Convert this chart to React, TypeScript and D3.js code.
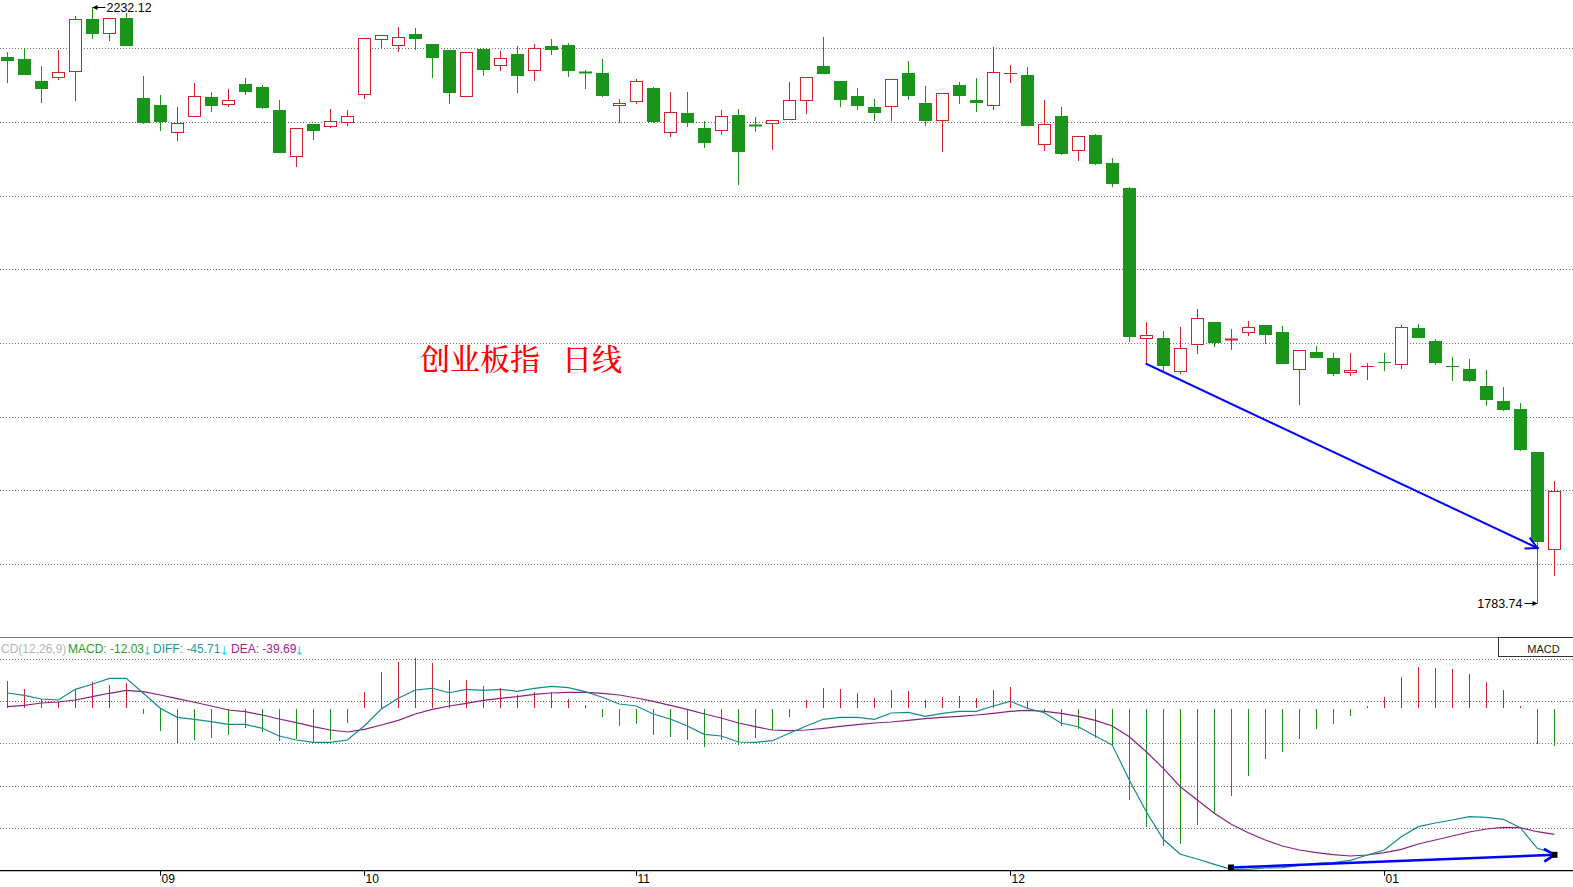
import React from "react";
import * as d3 from "d3";

const W = 1573;
const H = 887;

// ---- daily candles (index 0..91) ----
const opens = [2194.30,2193.02,2176.48,2179.26,2183.77,2223.09,2212.34,2223.85,2163.69,2158.43,2137.90,2149.93,2164.45,2158.96,2174.22,2171.96,2154.67,2119.86,2144.14,2142.41,2145.42,2166.48,2207.83,2203.32,2211.82,2204.30,2199.78,2164.97,2200.54,2188.28,2196.78,2184.52,2202.79,2203.54,2183.24,2182.49,2158.66,2161.21,2171.21,2137.90,2152.42,2141.14,2139.41,2150.91,2143.39,2144.67,2147.68,2161.96,2187.75,2176.48,2165.20,2156.93,2157.45,2182.49,2159.93,2146.93,2173.47,2162.19,2158.21,2182.27,2180.99,2129.48,2150.16,2124.37,2135.87,2114.82,2096.02,1983.01,1983.24,1958.20,1978.50,1995.27,1982.11,1987.97,1993.01,1987.75,1959.70,1972.71,1968.20,1957.45,1961.81,1965.19,1963.46,1990.76,1980.98,1962.18,1959.93,1947.15,1935.87,1929.85,1897.52,1824.36];
const highs = [2198.06,2201.06,2187.75,2199.78,2225.35,2232.12,2224.10,2227.83,2180.24,2165.95,2156.93,2174.97,2168.21,2170.46,2178.73,2173.47,2162.19,2140.91,2144.14,2155.42,2154.67,2209.10,2210.84,2216.85,2216.33,2204.30,2200.01,2198.06,2201.06,2199.03,2202.79,2204.30,2208.06,2205.05,2184.75,2193.02,2162.94,2177.98,2171.96,2168.21,2168.21,2146.40,2154.67,2155.42,2149.41,2146.93,2175.72,2179.26,2209.56,2176.48,2171.21,2162.94,2177.75,2191.51,2172.72,2167.23,2175.72,2178.73,2202.04,2188.51,2187.00,2162.19,2156.93,2134.90,2136.63,2118.58,2096.77,1995.49,1988.50,1991.51,2005.04,1995.27,1990.00,1996.02,1993.01,1992.26,1973.99,1977.22,1971.96,1971.96,1964.44,1971.96,1993.01,1993.99,1982.26,1968.95,1967.45,1959.18,1946.39,1934.36,1897.52,1875.72];
const lows = [2175.95,2181.97,2160.91,2178.21,2162.42,2209.03,2207.53,2203.77,2145.12,2139.86,2132.34,2149.93,2154.14,2157.90,2166.93,2156.40,2123.32,2112.79,2133.09,2141.66,2143.62,2163.92,2201.51,2199.26,2200.76,2179.71,2160.16,2164.97,2181.21,2184.97,2168.43,2177.45,2197.00,2180.46,2171.44,2165.42,2145.42,2160.16,2145.87,2135.35,2142.87,2127.08,2136.85,2099.26,2139.11,2125.57,2147.68,2152.64,2182.72,2157.68,2155.65,2147.38,2147.38,2163.17,2143.62,2124.07,2160.16,2154.14,2155.65,2175.95,2143.62,2124.82,2121.81,2117.30,2114.30,2097.75,1981.21,1963.69,1959.18,1957.15,1972.19,1977.45,1975.19,1985.49,1979.25,1964.67,1933.84,1969.18,1955.64,1955.64,1952.63,1959.40,1960.45,1984.22,1963.91,1951.88,1951.13,1933.09,1929.33,1899.02,1783.74,1805.26];
const closes = [2192.27,2181.97,2171.44,2183.02,2222.87,2212.79,2223.62,2203.77,2145.87,2146.63,2144.67,2164.97,2158.66,2161.96,2169.18,2156.93,2123.32,2140.91,2139.86,2146.17,2149.93,2208.58,2210.84,2209.33,2209.03,2194.75,2168.43,2198.06,2185.72,2193.54,2181.21,2201.06,2200.76,2184.97,2182.72,2166.17,2159.93,2176.48,2146.63,2152.94,2145.87,2130.84,2149.93,2124.07,2142.87,2146.93,2161.96,2179.26,2182.72,2163.17,2158.66,2153.39,2177.75,2166.17,2147.38,2167.23,2166.17,2160.91,2183.02,2182.49,2143.62,2143.92,2122.57,2134.90,2115.05,2100.01,1984.97,1985.27,1963.16,1975.49,1998.05,1980.46,1982.26,1991.28,1986.47,1964.67,1973.99,1969.18,1957.15,1958.95,1961.96,1964.82,1991.28,1984.22,1965.42,1961.81,1951.66,1937.60,1930.08,1899.78,1830.83,1867.97];

// ---- MACD(12,26,9) ----
const macdHist = [8.55,5.94,2.89,2.04,5.94,8.14,7.20,8.00,-1.73,-7.26,-10.85,-9.90,-9.47,-8.43,-6.13,-7.39,-10.22,-9.59,-10.72,-10.00,-4.56,5.09,11.38,14.53,15.79,14.21,8.87,8.87,6.98,6.35,4.15,5.09,5.09,2.89,1.00,-2.77,-5.60,-4.97,-8.43,-9.06,-10.00,-12.20,-10.00,-11.57,-9.37,-6.86,-2.77,2.58,6.35,6.04,4.78,3.21,5.72,5.41,2.58,3.52,3.84,3.21,5.72,6.67,2.26,-1.20,-5.60,-6.54,-9.37,-11.90,-28.87,-37.36,-43.33,-42.60,-36.70,-32.96,-27.60,-21.30,-15.97,-13.77,-9.69,-6.54,-4.97,-2.45,0.70,3.52,9.81,12.96,12.64,12.33,10.75,8.24,5.72,0.70,-11.16,-12.03];
const diffLine = [4.78,4.06,2.89,2.58,5.94,7.52,9.40,9.40,4.69,-0.03,-2.86,-3.49,-4.25,-5.06,-5.06,-6.32,-8.74,-10.00,-10.72,-10.72,-10.00,-5.60,-0.25,3.11,5.72,6.26,4.87,5.94,5.63,5.94,5.31,6.26,6.89,6.45,5.19,3.43,1.32,0.69,-1.82,-3.40,-5.60,-8.21,-8.74,-10.63,-10.72,-10.22,-7.89,-5.60,-3.49,-2.86,-2.86,-3.49,-1.51,-1.29,-2.55,-1.60,-0.97,-0.97,0.69,2.17,-0.03,-1.42,-4.75,-5.82,-8.74,-11.60,-22.58,-32.55,-41.23,-45.94,-47.42,-49.09,-50.66,-50.66,-50.25,-50.16,-49.40,-48.77,-48.58,-47.83,-46.16,-44.59,-40.41,-37.26,-36.10,-35.16,-34.12,-34.31,-34.94,-37.58,-44.06,-45.71];
const deaLine = [0.47,0.91,1.64,1.95,2.58,3.62,4.69,5.63,5.19,4.15,2.99,1.86,0.69,-0.57,-1.10,-2.14,-3.40,-4.56,-5.82,-6.86,-7.48,-6.64,-5.28,-3.81,-1.82,-0.35,0.69,1.54,2.48,3.11,3.62,4.37,4.78,5.00,5.00,4.69,4.15,3.21,2.17,0.91,-0.35,-1.82,-3.08,-4.65,-5.82,-6.86,-7.08,-6.86,-6.32,-5.69,-5.19,-4.65,-4.34,-3.81,-3.30,-2.86,-2.55,-2.14,-1.60,-0.97,-0.66,-0.97,-1.60,-2.55,-3.81,-5.60,-8.96,-13.68,-18.90,-24.69,-28.87,-33.05,-36.51,-39.15,-41.45,-43.33,-44.59,-45.44,-46.07,-46.48,-46.16,-45.44,-44.37,-42.70,-41.45,-40.19,-38.93,-37.99,-37.45,-37.58,-38.84,-39.69];

// ---- axis / grid / annotations ----
const monthTickIndex = [9, 21, 37, 59, 81];
const monthTickLabels = ["09", "10", "11", "12", "01"];
const priceGrid = [2201.06, 2145.65, 2090.24, 2034.83, 1979.42, 1924.01, 1868.6, 1813.19];
const macdGrid = [15.38, 2.17, -11.06, -24.5, -37.7];
const highMark = { index: 5, value: 2232.12, text: "2232.12" };
const lowMark = { index: 90, value: 1783.74, text: "1783.74" };
const priceTrend = [{ index: 67, value: 1963.69 }, { index: 90, value: 1825.3 }];
const macdTrend = [{ index: 72, value: -50.1 }, { index: 91, value: -46.1 }];
const titleParts = ["创业板指", "日线"];
const macdHeader = {
  name: "CD(12,26,9)",
  macd: "MACD: -12.03",
  diff: "DIFF: -45.71",
  dea: "DEA: -39.69",
};

const RED = "#d2222c";
const GREEN = "#1a941a";
const DIFF_C = "#148a8c";
const DEA_C = "#8c2080";
const BLUE = "#0000ff";
const SANS = "'Liberation Sans', Arial, sans-serif";

const PRICE_TOP = 0;
const PRICE_BOTTOM = 637;
const MACD_TOP = 637;
const MACD_BOTTOM = 870.7;

const xScale = d3.scaleLinear().domain([0, 91]).range([7.3, 1554.3]);
const yPrice = d3.scaleLinear().domain([1758.42, 2237.38]).range([PRICE_BOTTOM, PRICE_TOP]);
const yMacd = d3.scaleLinear().domain([-51.1, 22.39]).range([MACD_BOTTOM, MACD_TOP]);

const cx = (i: number) => Math.floor(xScale(i)) + 0.5;

function Arrow({ x1, y1, x2, y2, len, ang, color, width }: any) {
  const a = Math.atan2(y2 - y1, x2 - x1) + Math.PI;
  const b1 = [x2 + len * Math.cos(a - ang), y2 + len * Math.sin(a - ang)];
  const b2 = [x2 + len * Math.cos(a + ang), y2 + len * Math.sin(a + ang)];
  return (
    <g stroke={color} strokeWidth={width} fill="none" strokeLinecap="square">
      <line x1={x1} y1={y1} x2={x2} y2={y2} />
      <line x1={b1[0]} y1={b1[1]} x2={x2} y2={y2} />
      <line x1={b2[0]} y1={b2[1]} x2={x2} y2={y2} />
    </g>
  );
}

export default function App() {
  const candles = opens.map((o, i) => ({ o, h: highs[i], l: lows[i], c: closes[i], i }));

  const lineGen = d3
    .line<number>()
    .x((_, i) => xScale(i))
    .y((v) => yMacd(v));

  const zeroY = yMacd(0);

  const hx = cx(highMark.index);
  const hy = Math.round(yPrice(highMark.value));
  const lx = cx(lowMark.index);
  const ly = Math.round(yPrice(lowMark.value));

  return (
    <svg
      width={W}
      height={H}
      viewBox={`0 0 ${W} ${H}`}
      style={{ position: "absolute", left: 0, top: 0, display: "block", background: "#ffffff" }}
    >
      <defs>
        <clipPath id="macdClip">
          <rect x={0} y={MACD_TOP + 1} width={W} height={MACD_BOTTOM - MACD_TOP - 1} />
        </clipPath>
      </defs>
      <rect x={0} y={0} width={W} height={H} fill="#ffffff" />

      {/* grid lines */}
      {priceGrid.map((p, k) => (
        <line key={"pg" + k} x1={0} x2={W} y1={Math.round(yPrice(p)) + 0.5} y2={Math.round(yPrice(p)) + 0.5}
          stroke="#707070" strokeWidth={1} strokeDasharray="1 2" />
      ))}
      {macdGrid.map((v, k) => (
        <line key={"mg" + k} x1={0} x2={W} y1={Math.round(yMacd(v)) + 0.5} y2={Math.round(yMacd(v)) + 0.5}
          stroke="#707070" strokeWidth={1} strokeDasharray="1 2" />
      ))}

      {/* candles */}
      {candles.map((d) => {
        const up = d.c >= d.o;
        const x = cx(d.i);
        const top = Math.round(yPrice(Math.max(d.o, d.c)));
        const bot = Math.round(yPrice(Math.min(d.o, d.c)));
        const yh = Math.round(yPrice(d.h));
        const yl = Math.round(yPrice(d.l));
        const color = up ? RED : GREEN;
        const flat = bot - top < 2;
        if (flat) {
          return (
            <g key={d.i} stroke={color} strokeWidth={1}>
              <line x1={x} x2={x} y1={yh} y2={yl + 1} />
              <line x1={x - 6.5} x2={x + 6.5} y1={top + 0.5} y2={top + 0.5} strokeWidth={bot - top < 1 ? 1 : 2} />
            </g>
          );
        }
        if (up) {
          return (
            <g key={d.i} stroke={color} strokeWidth={1} fill="none">
              {yh < top && <line x1={x} x2={x} y1={yh} y2={top} />}
              {yl > bot && <line x1={x} x2={x} y1={bot + 1} y2={yl + 1} />}
              <rect x={x - 6} y={top + 0.5} width={12} height={bot - top} fill="#ffffff" />
            </g>
          );
        }
        return (
          <g key={d.i}>
            <line x1={x} x2={x} y1={yh} y2={yl + 1} stroke={color} strokeWidth={1} />
            <rect x={x - 6.5} y={top} width={13} height={bot - top + 1} fill={color} />
          </g>
        );
      })}

      {/* high / low labels */}
      <g>
        <line x1={hx + 3} y1={hy + 0.5} x2={hx + 13} y2={hy + 0.5} stroke="#000" strokeWidth={1} />
        <path d={`M${hx},${hy + 0.5} L${hx + 5},${hy - 2} L${hx + 5},${hy + 3} Z`} fill="#000" />
        <text x={hx + 14} y={hy + 5} fontFamily={SANS} fontSize={12.5} fill="#000">{highMark.text}</text>
      </g>
      <g>
        <line x1={lx - 13} y1={ly + 0.5} x2={lx - 3} y2={ly + 0.5} stroke="#000" strokeWidth={1} />
        <path d={`M${lx},${ly + 0.5} L${lx - 5},${ly - 2} L${lx - 5},${ly + 3} Z`} fill="#000" />
        <text x={lx - 15} y={ly + 5} fontFamily={SANS} fontSize={12.5} fill="#000" textAnchor="end">{lowMark.text}</text>
      </g>

      {/* price trend arrow */}
      <Arrow
        x1={cx(priceTrend[0].index)} y1={yPrice(priceTrend[0].value)}
        x2={cx(priceTrend[1].index)} y2={yPrice(priceTrend[1].value)}
        len={12} ang={0.48} color={BLUE} width={2}
      />

      {/* title */}
      <text x={420} y={370} fontFamily="'Noto Serif CJK SC', 'Noto Sans CJK SC', serif" fontSize={30} fontWeight={500} fill="#ff0000">{titleParts[0]}</text>
      <text x={562} y={370} fontFamily="'Noto Serif CJK SC', 'Noto Sans CJK SC', serif" fontSize={30} fontWeight={500} fill="#ff0000">{titleParts[1]}</text>

      {/* panel separator */}
      <line x1={0} x2={W} y1={MACD_TOP + 0.5} y2={MACD_TOP + 0.5} stroke="#7a7a7a" strokeWidth={1} />

      {/* MACD histogram */}
      {macdHist.map((v, i) => {
        const x = cx(i);
        const y = Math.round(yMacd(v));
        return v >= 0 ? (
          <line key={"mh" + i} x1={x} x2={x} y1={y} y2={Math.round(zeroY)} stroke={RED} strokeWidth={1} />
        ) : (
          <line key={"mh" + i} x1={x} x2={x} y1={Math.round(zeroY) + 1} y2={y} stroke={GREEN} strokeWidth={1} />
        );
      })}

      <g clipPath="url(#macdClip)">
        <path d={lineGen(deaLine) || ""} fill="none" stroke={DEA_C} strokeWidth={1.2} />
        <path d={lineGen(diffLine) || ""} fill="none" stroke={DIFF_C} strokeWidth={1.2} />
      </g>

      {/* MACD trend arrow */}
      <Arrow
        x1={cx(macdTrend[0].index)} y1={yMacd(macdTrend[0].value)}
        x2={cx(macdTrend[1].index)} y2={yMacd(macdTrend[1].value)}
        len={11} ang={0.55} color={BLUE} width={2.5}
      />
      <rect x={cx(macdTrend[0].index) - 3.5} y={yMacd(macdTrend[0].value) - 3} width={6} height={6} fill="#000" />
      <rect x={cx(macdTrend[1].index) - 3} y={yMacd(macdTrend[1].value) - 3} width={6} height={6} fill="#000" />

      {/* MACD header */}
      <g fontFamily={SANS} fontSize={12}>
        <text x={1} y={653} fill="#b4b4b4">{macdHeader.name}</text>
        <text x={68} y={653} fill="#2f9a22">{macdHeader.macd}</text>
        <text x={142} y={655} fill="#3cd0e8" fontSize={12} fontFamily="'DejaVu Sans', sans-serif">↓</text>
        <text x={153} y={653} fill="#229a9a">{macdHeader.diff}</text>
        <text x={219} y={655} fill="#3cd0e8" fontSize={12} fontFamily="'DejaVu Sans', sans-serif">↓</text>
        <text x={231} y={653} fill="#a8208c">{macdHeader.dea}</text>
        <text x={294} y={655} fill="#3cd0e8" fontSize={12} fontFamily="'DejaVu Sans', sans-serif">↓</text>
      </g>

      {/* MACD box at right */}
      <rect x={1498.5} y={MACD_TOP + 0.5} width={80} height={19} fill="#ffffff" stroke="#333" strokeWidth={1} />
      <text x={1543.5} y={652.5} textAnchor="middle" fontFamily={SANS} fontSize={11} fill="#222">MACD</text>

      {/* x axis */}
      <line x1={0} x2={W} y1={MACD_BOTTOM} y2={MACD_BOTTOM} stroke="#000" strokeWidth={1.3} />
      {monthTickIndex.map((idx, k) => (
        <g key={"t" + k}>
          <line x1={cx(idx)} x2={cx(idx)} y1={MACD_BOTTOM} y2={MACD_BOTTOM + 5} stroke="#000" strokeWidth={1} />
          <text x={cx(idx) + 1} y={883} fontFamily={SANS} fontSize={12} fill="#000">{monthTickLabels[k]}</text>
        </g>
      ))}
    </svg>
  );
}
